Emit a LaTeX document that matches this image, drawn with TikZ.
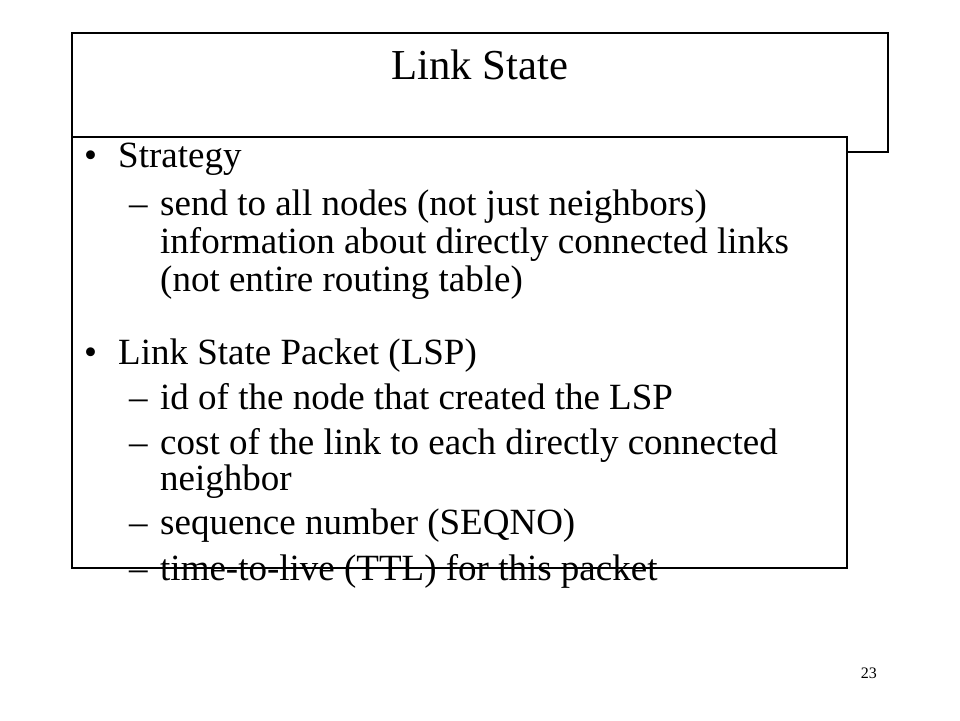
\documentclass[tikz,border=0pt]{standalone}
\usepackage{fontspec}
\setmainfont{Liberation Serif}
\usetikzlibrary{positioning}
\tikzset{
	slide box/.style={draw,line width=1.3pt,fill=white},
	slide title/.style={font=\fontsize{42.7}{48}\selectfont,anchor=base,inner sep=0pt},
	slide item/.style={font=\fontsize{37}{40}\selectfont,anchor=base west,inner sep=0pt},
	slide mark/.style={slide item},
	page number/.style={font=\fontsize{16}{18}\selectfont,anchor=base east,inner sep=0pt}
}

\begin{document}
\begin{tikzpicture}[x=1pt,y=-1pt]
   \useasboundingbox (0,0) rectangle (960,720);
   % title frame, then the body frame over it
   \draw[slide box] (72,33) rectangle (888,152);
   \node[slide title] (title) at (480,79) {Link State};
   \draw[slide box] (72,137) rectangle (847,568);
   % first bullet
   \node[slide mark] (bulletA) at (84,167) {•};
   \node[slide item] (strategy) at (118,167) {Strategy};
   \node[slide mark] (dashA) at (129,215) {–};
   \node[slide item] (sendline) at (160,215) {send to all nodes (not just neighbors)};
   \node[slide item] (infoline) at (160,253) {information about directly connected links};
   \node[slide item] (tableline) at (160,291) {(not entire routing table)};
   % second bullet
   \node[slide mark] (bulletB) at (84,364) {•};
   \node[slide item] (lsp) at (118,364) {Link State Packet (LSP)};
   \node[slide mark] (dashB) at (129,409) {–};
   \node[slide item] (idline) at (160,409) {id of the node that created the LSP};
   \node[slide mark] (dashC) at (129,454) {–};
   \node[slide item] (costline) at (160,454) {cost of the link to each directly connected};
   \node[slide item] (neighline) at (160,490) {neighbor};
   \node[slide mark] (dashD) at (129,534) {–};
   \node[slide item] (seqline) at (160,534) {sequence number (SEQNO)};
   \node[slide mark] (dashE) at (129,580) {–};
   \node[slide item] (ttlline) at (160,580) {time-to-live (TTL) for this packet};
   \node[page number] (pagenum) at (877,678) {23};
\end{tikzpicture}
\end{document}
